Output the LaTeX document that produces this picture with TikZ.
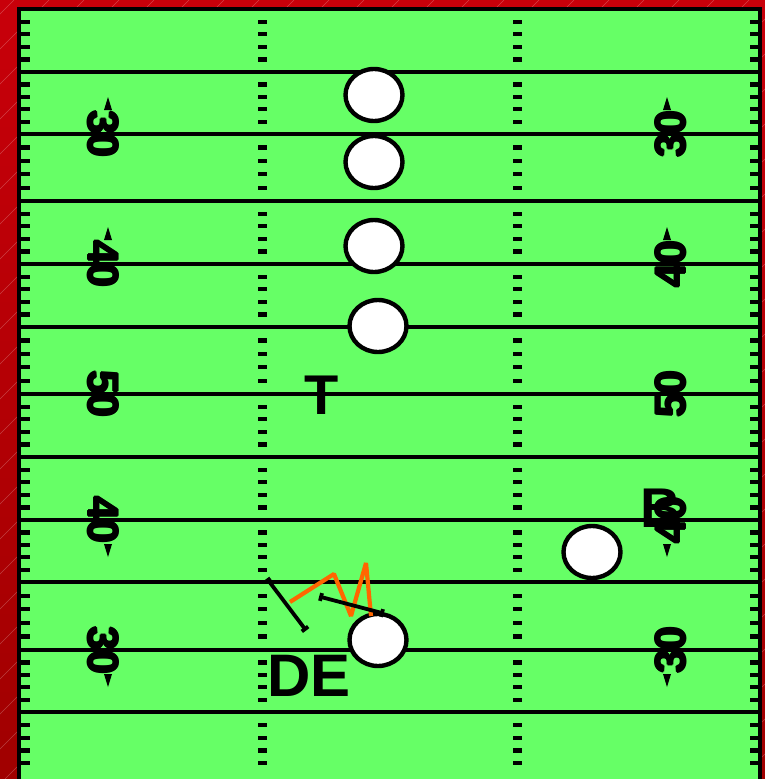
\documentclass[tikz,border=0pt]{standalone}
\usepackage{fontspec}
\setmainfont{Liberation Sans}
\definecolor{fieldgreen}{RGB}{102,255,102}
\definecolor{bgredtop}{RGB}{200,0,10}
\definecolor{bgredbot}{RGB}{160,0,0}
\definecolor{runorange}{RGB}{255,102,0}
\tikzset{
  yardline/.style={line width=4.2pt, black},
  tick/.style={line width=4.2pt, black},
  player/.style={draw=black, line width=4.4pt, fill=white, ellipse, minimum width=57pt, minimum height=52pt, inner sep=0pt},
  yardnum/.style={font=\bfseries\fontsize{43}{43}\selectfont, text=black, inner sep=0pt},
  posnum/.style={font=\bfseries\fontsize{56}{56}\selectfont, text=black, inner sep=0pt},
  blockline/.style={line width=3.8pt, black},
  runline/.style={line width=4.2pt, runorange, line join=bevel},
  dirarrow/.style={fill=black}
}
\usetikzlibrary{shapes.geometric,calc}
\begin{document}
\begin{tikzpicture}[x=1pt,y=-1pt]
\useasboundingbox (0,0) rectangle (765,779);
% background
\shade[top color=bgredtop, bottom color=bgredbot] (0,0) rectangle (765,779);
\begin{scope}
  \clip (0,0) rectangle (765,779);
  \foreach \i in {-800,-765,...,800}
    \draw[white, opacity=0.25, line width=0.5pt] (\i,779) -- (\i+779,0);
\end{scope}
% field
\fill[fieldgreen] (19,9) rectangle (760,790);
% yard lines
\foreach \y in {72,134,201,264,327,394,457,520,582,650,712}
  \draw[yardline] (19,\y) -- (760,\y);
% hash ticks
\foreach \a/\b in {9/72,72/134,134/201,201/264,264/327,327/394,394/457,457/520,520/582,582/650,650/712,712/776,776/840}{
  \foreach \k in {1,2,3,4}{
    \pgfmathsetmacro{\yy}{\a+(\b-\a)*\k/5}
    \draw[tick] (21,\yy) -- (30,\yy);
    \draw[tick] (258,\yy) -- (267,\yy);
    \draw[tick] (513,\yy) -- (522,\yy);
    \draw[tick] (750,\yy) -- (759,\yy);
  }
}
% field border
\draw[line width=4.5pt, line join=miter] (19,800) -- (19,9) -- (760,9) -- (760,800);
% yard numbers
\foreach \n/\y/\nm in {30/134/a,40/264/b,50/394/c,40/520/d,30/650/e}{
  \foreach \dx/\dy in {1/0,-1/0,0/1,0/-1}
    \node[yardnum, rotate=-90] at (103+\dx,\y+\dy) {\n};
  \node[yardnum, rotate=-90] (L\nm) at (103,\y) {\n};
  \foreach \dx/\dy in {1/0,-1/0,0/1,0/-1}
    \node[yardnum, rotate=90] at (671+\dx,\y+\dy) {\n};
  \node[yardnum, rotate=90] (R\nm) at (671,\y) {\n};
}
% direction arrows
\foreach \x in {108,667}{
  \fill[dirarrow] (\x,97) -- (\x-4,110) -- (\x+4,110) -- cycle;
  \fill[dirarrow] (\x,227) -- (\x-4,240) -- (\x+4,240) -- cycle;
  \fill[dirarrow] (\x,557) -- (\x-4,544) -- (\x+4,544) -- cycle;
  \fill[dirarrow] (\x,687) -- (\x-4,674) -- (\x+4,674) -- cycle;
}
% labels
\node[posnum] (T) at (322,395) {T};
\node[posnum] (B) at (661,508) {B};
\node[posnum, font=\bfseries\fontsize{60}{60}\selectfont] (DE) at (309,676) {DE};
% players
\node[player] (p1) at (374,95) {};
\node[player] (p2) at (374,162) {};
\node[player] (p3) at (374,246) {};
\node[player] (p4) at (378,326) {};
\node[player] (p5) at (592,552) {};
\node[player] (p6) at (378,640) {};
% run path
\coordinate (r0) at (290,602);
\coordinate (r1) at (334,574);
\coordinate (r2) at (351,616);
\coordinate (r3) at (366,563);
\coordinate (r4) at (371,616);
\draw[runline] (r0) -- (r1) -- (r2) -- (r3) -- (r4);
% blocks
\coordinate (b1s) at (268,580);
\coordinate (b1e) at (305,629);
\coordinate (b2s) at (321,597);
\coordinate (b2e) at (382,613);
\draw[blockline] (b1s) -- (b1e);
\draw[blockline] ($(b1e)!4pt!90:(b1s)$) -- ($(b1e)!4pt!-90:(b1s)$);
\draw[blockline] ($(b1s)!3pt!90:(b1e)$) -- ($(b1s)!3pt!-90:(b1e)$);
\draw[blockline] (b2s) -- (b2e);
\draw[blockline] ($(b2s)!4pt!90:(b2e)$) -- ($(b2s)!4pt!-90:(b2e)$);
\draw[blockline] ($(b2e)!4pt!90:(b2s)$) -- ($(b2e)!4pt!-90:(b2s)$);
\end{tikzpicture}
\end{document}
